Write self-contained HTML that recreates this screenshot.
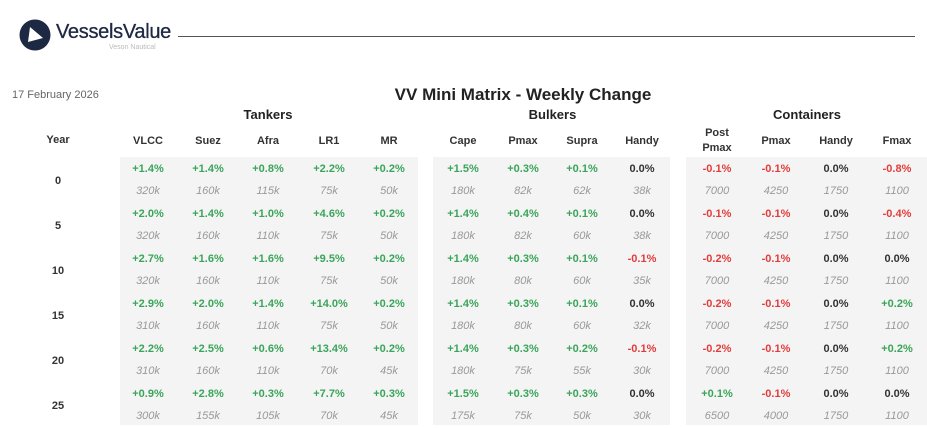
<!DOCTYPE html>
<html><head><meta charset="utf-8">
<style>
body{margin:0;width:927px;height:428px;background:#fff;position:relative;overflow:hidden;font-family:"Liberation Sans",sans-serif;}
.a{position:absolute}
.p{position:absolute;top:157px;height:268px;background:#f4f4f4}
.r{position:absolute;left:0;width:927px;height:22px;line-height:22px;font-size:11px}
.r span{position:absolute;width:60px;text-align:center}
.r span:nth-child(1){left:118px}.r span:nth-child(2){left:178px}.r span:nth-child(3){left:238px}.r span:nth-child(4){left:299px}.r span:nth-child(5){left:359px}
.r span:nth-child(6){left:433px}.r span:nth-child(7){left:493px}.r span:nth-child(8){left:552px}.r span:nth-child(9){left:612px}
.r span:nth-child(10){left:687px}.r span:nth-child(11){left:746px}.r span:nth-child(12){left:806px}.r span:nth-child(13){left:867px}
.pc{font-weight:bold}
.v{color:#999;font-style:italic}
.g{color:#3aa55a}.d{color:#e23c3c}.k{color:#333}
.h span{font-weight:bold;color:#333}
.y{position:absolute;left:28px;width:60px;text-align:center;font-weight:bold;font-size:11px;color:#333}
.sec{position:absolute;top:107px;font-weight:bold;font-size:13px;color:#222;text-align:center}
</style></head><body>
<svg class="a" style="left:19px;top:19px" width="32" height="32" viewBox="0 0 32 32"><circle cx="16" cy="16" r="15.5" fill="#1d2842"/><path d="M11 8 L24 19 L9 23 Z" fill="#fff"/></svg>
<div class="a" style="left:56px;top:21px;font-size:20px;color:#1d2842;letter-spacing:-0.3px;-webkit-text-stroke:0.3px #1d2842">VesselsValue</div>
<div class="a" style="left:109px;top:44px;font-size:7px;color:#bbb">Veson Nautical</div>
<div class="a" style="left:178px;top:36px;width:737px;height:1px;background:#555"></div>
<div class="a" style="left:12px;top:89px;font-size:11px;color:#666">17 February 2026</div>
<div class="a" style="left:323px;top:85px;width:400px;text-align:center;font-weight:bold;font-size:17px;color:#222">VV Mini Matrix - Weekly Change</div>
<div class="sec" style="left:118px;width:300px">Tankers</div>
<div class="sec" style="left:433px;width:239px">Bulkers</div>
<div class="sec" style="left:687px;width:240px">Containers</div>
<div class="p" style="left:120px;width:298px"></div>
<div class="p" style="left:433px;width:237px"></div>
<div class="p" style="left:686px;width:241px"></div>
<div class="y" style="top:134px">Year</div>
<div class="r h" style="top:130px"><span>VLCC</span><span>Suez</span><span>Afra</span><span>LR1</span><span>MR</span><span>Cape</span><span>Pmax</span><span>Supra</span><span>Handy</span><span style="line-height:15px;top:-4px">Post<br>Pmax</span><span>Pmax</span><span>Handy</span><span>Fmax</span></div>

<div class="y" style="top:175px">0</div>
<div class="r pc" style="top:158px"><span class="g">+1.4%</span><span class="g">+1.4%</span><span class="g">+0.8%</span><span class="g">+2.2%</span><span class="g">+0.2%</span><span class="g">+1.5%</span><span class="g">+0.3%</span><span class="g">+0.1%</span><span class="k">0.0%</span><span class="d">-0.1%</span><span class="d">-0.1%</span><span class="k">0.0%</span><span class="d">-0.8%</span></div>
<div class="r v" style="top:180px"><span>320k</span><span>160k</span><span>115k</span><span>75k</span><span>50k</span><span>180k</span><span>82k</span><span>62k</span><span>38k</span><span>7000</span><span>4250</span><span>1750</span><span>1100</span></div>

<div class="y" style="top:220px">5</div>
<div class="r pc" style="top:203px"><span class="g">+2.0%</span><span class="g">+1.4%</span><span class="g">+1.0%</span><span class="g">+4.6%</span><span class="g">+0.2%</span><span class="g">+1.4%</span><span class="g">+0.4%</span><span class="g">+0.1%</span><span class="k">0.0%</span><span class="d">-0.1%</span><span class="d">-0.1%</span><span class="k">0.0%</span><span class="d">-0.4%</span></div>
<div class="r v" style="top:225px"><span>320k</span><span>160k</span><span>110k</span><span>75k</span><span>50k</span><span>180k</span><span>82k</span><span>60k</span><span>38k</span><span>7000</span><span>4250</span><span>1750</span><span>1100</span></div>

<div class="y" style="top:265px">10</div>
<div class="r pc" style="top:248px"><span class="g">+2.7%</span><span class="g">+1.6%</span><span class="g">+1.6%</span><span class="g">+9.5%</span><span class="g">+0.2%</span><span class="g">+1.4%</span><span class="g">+0.3%</span><span class="g">+0.1%</span><span class="d">-0.1%</span><span class="d">-0.2%</span><span class="d">-0.1%</span><span class="k">0.0%</span><span class="k">0.0%</span></div>
<div class="r v" style="top:270px"><span>320k</span><span>160k</span><span>110k</span><span>75k</span><span>50k</span><span>180k</span><span>80k</span><span>60k</span><span>35k</span><span>7000</span><span>4250</span><span>1750</span><span>1100</span></div>

<div class="y" style="top:310px">15</div>
<div class="r pc" style="top:293px"><span class="g">+2.9%</span><span class="g">+2.0%</span><span class="g">+1.4%</span><span class="g">+14.0%</span><span class="g">+0.2%</span><span class="g">+1.4%</span><span class="g">+0.3%</span><span class="g">+0.1%</span><span class="k">0.0%</span><span class="d">-0.2%</span><span class="d">-0.1%</span><span class="k">0.0%</span><span class="g">+0.2%</span></div>
<div class="r v" style="top:315px"><span>310k</span><span>160k</span><span>110k</span><span>75k</span><span>50k</span><span>180k</span><span>80k</span><span>60k</span><span>32k</span><span>7000</span><span>4250</span><span>1750</span><span>1100</span></div>

<div class="y" style="top:355px">20</div>
<div class="r pc" style="top:338px"><span class="g">+2.2%</span><span class="g">+2.5%</span><span class="g">+0.6%</span><span class="g">+13.4%</span><span class="g">+0.2%</span><span class="g">+1.4%</span><span class="g">+0.3%</span><span class="g">+0.2%</span><span class="d">-0.1%</span><span class="d">-0.2%</span><span class="d">-0.1%</span><span class="k">0.0%</span><span class="g">+0.2%</span></div>
<div class="r v" style="top:360px"><span>310k</span><span>160k</span><span>110k</span><span>70k</span><span>45k</span><span>180k</span><span>75k</span><span>55k</span><span>30k</span><span>7000</span><span>4250</span><span>1750</span><span>1100</span></div>

<div class="y" style="top:400px">25</div>
<div class="r pc" style="top:383px"><span class="g">+0.9%</span><span class="g">+2.8%</span><span class="g">+0.3%</span><span class="g">+7.7%</span><span class="g">+0.3%</span><span class="g">+1.5%</span><span class="g">+0.3%</span><span class="g">+0.3%</span><span class="k">0.0%</span><span class="g">+0.1%</span><span class="d">-0.1%</span><span class="k">0.0%</span><span class="k">0.0%</span></div>
<div class="r v" style="top:405px"><span>300k</span><span>155k</span><span>105k</span><span>70k</span><span>45k</span><span>175k</span><span>75k</span><span>50k</span><span>30k</span><span>6500</span><span>4000</span><span>1750</span><span>1100</span></div>
</body></html>
